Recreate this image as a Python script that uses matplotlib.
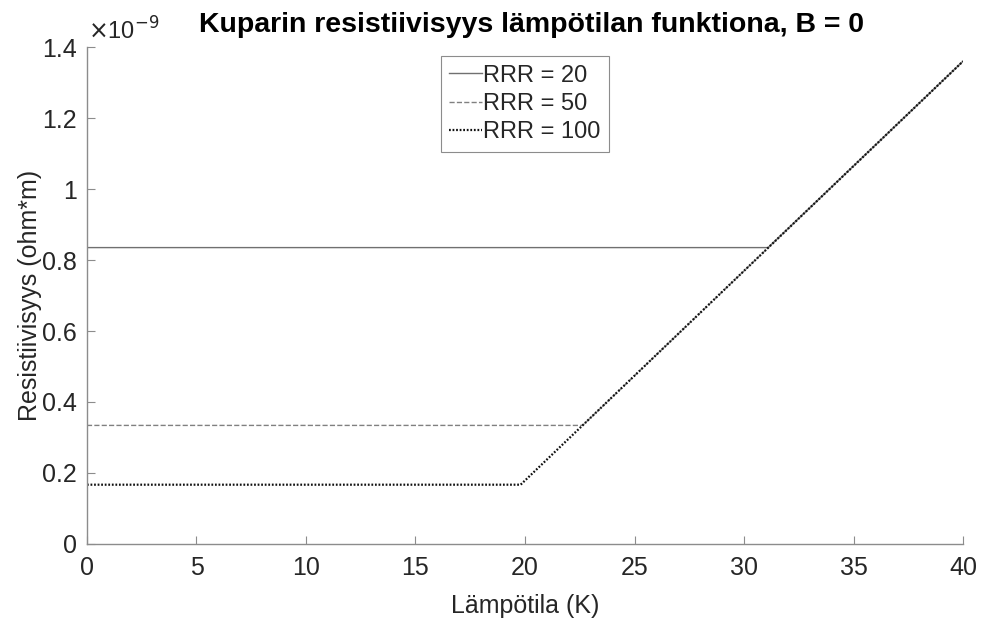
import matplotlib
matplotlib.use('Agg')
import matplotlib.pyplot as plt
from matplotlib.ticker import FuncFormatter

plt.rcParams['font.family'] = ['Liberation Sans', 'DejaVu Sans']

# Resistivity curves: flat residual part, then the phonon part (ohm*m)
temp_rrr20 = [0, 31.1, 40]
rho_rrr20 = [0.835e-9, 0.835e-9, 1.36e-9]
temp_rrr50 = [0, 22.63, 40]
rho_rrr50 = [0.334e-9, 0.334e-9, 1.36e-9]
temp_rrr100 = [0, 19.8, 40]
rho_rrr100 = [0.167e-9, 0.167e-9, 1.36e-9]

labels = ['RRR = 20', 'RRR = 50', 'RRR = 100']
xticks = [0, 5, 10, 15, 20, 25, 30, 35, 40]
yticks = [0, 0.2e-9, 0.4e-9, 0.6e-9, 0.8e-9, 1.0e-9, 1.2e-9, 1.4e-9]

txt = '#262626'
axc = '#8c8c8c'

fig = plt.figure(figsize=(9.86, 6.19), dpi=100)
ax = fig.add_axes([0.0882, 0.1212, 0.8885, 0.8028])

ax.plot(temp_rrr20, rho_rrr20, '-', color='#707070', lw=1.0, label=labels[0])
ax.plot(temp_rrr50, rho_rrr50, '--', color='#808080', lw=1.0, label=labels[1])
ax.plot(temp_rrr100, rho_rrr100, color='#111111', lw=1.6,
        dashes=(0.8, 0.8), label=labels[2])

ax.set_xlim(0, 40)
ax.set_ylim(0, 1.4e-9)
ax.set_xticks(xticks)
ax.set_yticks(yticks)
ax.yaxis.set_major_formatter(FuncFormatter(lambda v, p: f'{v * 1e9:g}'))
ax.text(0.001, 1.004, r'$\times$10$^{-9}$', transform=ax.transAxes,
        ha='left', va='bottom', fontsize=17, color=txt)

for side in ['top', 'right']:
    ax.spines[side].set_visible(False)
for side in ['left', 'bottom']:
    ax.spines[side].set_color(axc)
    ax.spines[side].set_linewidth(1.0)
ax.tick_params(direction='in', length=6, width=0.8, color=axc,
               labelsize=18, labelcolor=txt)
ax.tick_params(axis='x', pad=9)
ax.tick_params(axis='y', pad=7)

ax.set_xlabel('Lämpötila (K)', fontsize=18, color=txt, labelpad=10)
ax.set_ylabel('Resistiivisyys (ohm*m)', fontsize=18, color=txt, labelpad=0)
ax.set_title('Kuparin resistiivisyys lämpötilan funktiona, B = 0',
             fontsize=20.5, fontweight='bold', pad=11, x=0.507)

leg = ax.legend(loc='upper center', fontsize=17, handlelength=1.4,
                handletextpad=0.05, borderpad=0.35, labelspacing=0.27,
                borderaxespad=0.5, fancybox=False, framealpha=1,
                bbox_to_anchor=(0.5, 1.005))
leg.get_frame().set_edgecolor(axc)
leg.get_frame().set_linewidth(0.8)
for t in leg.get_texts():
    t.set_color(txt)

fig.savefig('out.png', dpi=100)
